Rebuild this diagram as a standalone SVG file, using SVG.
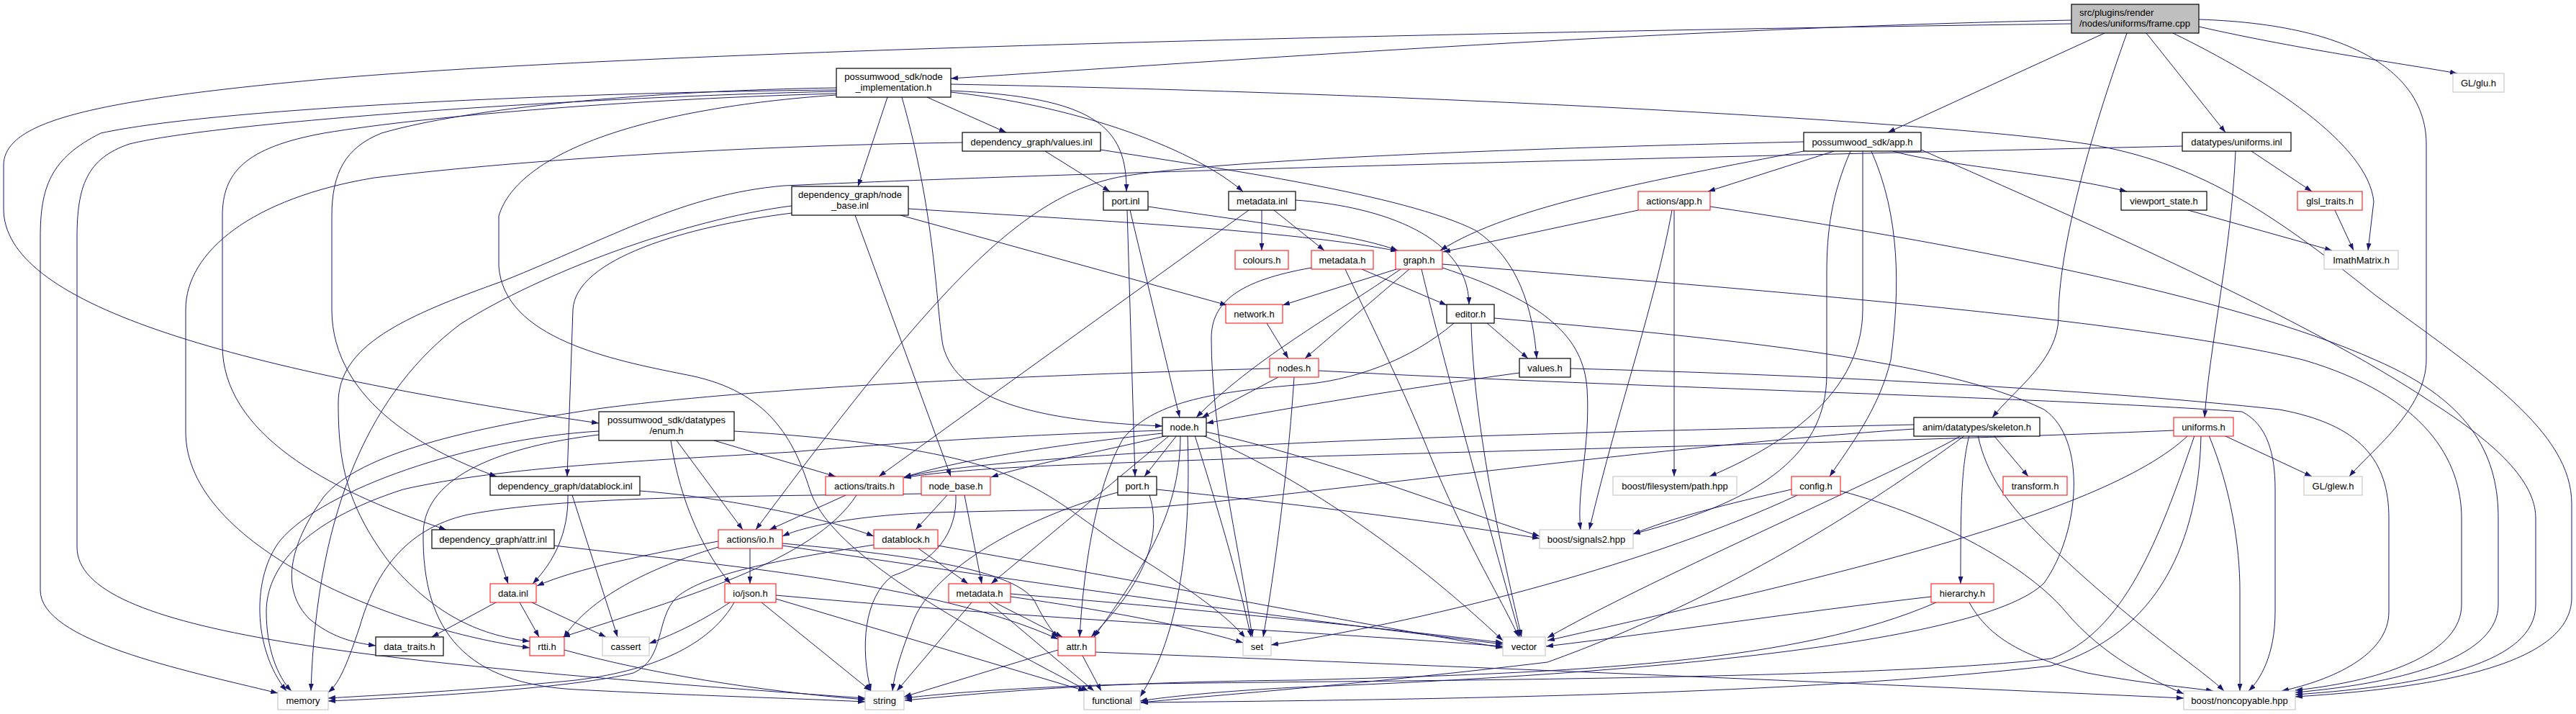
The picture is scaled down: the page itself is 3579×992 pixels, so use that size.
<svg xmlns="http://www.w3.org/2000/svg" width="3579" height="992" viewBox="0 0 3579 992">
<defs>
<style>
.e{fill:none;stroke:#191970;stroke-width:1;marker-end:url(#arr)}
.node rect{fill:#fff;stroke:#000;stroke-width:1.2}
.node.r rect{stroke:#ff0000;stroke-width:1}
.node.g rect{stroke:#bfbfbf;stroke-width:1}
.node text{font-family:"Liberation Sans",Arial,Helvetica,sans-serif;font-size:13px;fill:#000;text-anchor:middle}
</style>
<marker id="arr" viewBox="0 0 10 7" refX="10" refY="3.5" markerWidth="10" markerHeight="7" markerUnits="userSpaceOnUse" orient="auto"><path d="M0,0 L10,3.5 L0,7 z" fill="#191970"/></marker>
</defs>
<rect x="0" y="0" width="3579" height="992" fill="#fff"/>
<g id="edges">
<path class="e" d="M2878,28 C2300,40 1700,85 1321,109"/>
<path class="e" d="M2878,33 C2000,45 900,70 450,110 C120,140 5,170 5,230 L5,290 C5,420 300,510 832,588"/>
<path class="e" d="M2924,46 L2623,184"/>
<path class="e" d="M2955,46 C2900,200 2860,350 2860,440 C2860,500 2800,540 2768,580"/>
<path class="e" d="M2982,46 L3092,184"/>
<path class="e" d="M3019,46 C3150,110 3290,200 3298,280 L3290,348"/>
<path class="e" d="M3055,37 C3200,70 3350,90 3414,102"/>
<path class="e" d="M3055,27 C3300,35 3371,120 3371,200 L3371,500 C3371,570 3290,630 3264,662"/>
<path class="e" d="M1288,135 L1398,184"/>
<path class="e" d="M1233,135 L1192,259"/>
<path class="e" d="M1321,126 C1520,135 1566,175 1565,266"/>
<path class="e" d="M1321,128 C1480,145 1650,200 1727,266"/>
<path class="e" d="M1253,135 C1300,300 1300,420 1310,480 C1330,560 1450,585 1615,592"/>
<path class="e" d="M1162,125 C800,128 300,150 140,185 C70,220 56,260 56,330 L56,820 C56,890 250,930 386,963"/>
<path class="e" d="M1162,127 C800,135 300,170 180,200 C120,220 107,260 107,330 L107,760 C107,880 500,920 1202,970"/>
<path class="e" d="M1162,130 C900,137 600,160 450,185 C340,205 309,240 309,300 L309,480 C309,600 450,680 620,736"/>
<path class="e" d="M1162,122 C900,126 650,150 530,185 C480,205 461,240 461,300 L461,430 C461,560 600,630 690,662"/>
<path class="e" d="M1162,132 C900,150 720,210 693,300 L693,370 C700,470 850,500 950,520 C1060,540 1100,600 1125,680 C1150,760 1300,850 1512,960"/>
<path class="e" d="M1321,117 C2000,130 2700,170 2900,200 C3050,225 3150,290 3300,410 C3450,520 3573,600 3573,700 L3573,830 C3573,920 3400,955 3189,968"/>
<path class="e" d="M1452,210 L1542,266"/>
<path class="e" d="M1529,208 C1700,235 1950,270 2050,320 C2110,360 2130,430 2135,498"/>
<path class="e" d="M1337,198 C1000,203 700,225 520,247 C350,275 258,350 258,430 L258,600 C258,760 550,875 736,900"/>
<path class="e" d="M2548,210 L2373,266"/>
<path class="e" d="M2630,210 C2700,230 2850,240 2955,266"/>
<path class="e" d="M2506,210 C2300,250 2100,285 2001,348"/>
<path class="e" d="M2506,197 C2100,206 1700,222 1560,245 C1420,270 1300,400 1050,736"/>
<path class="e" d="M2571,210 C2545,270 2538,320 2538,380 L2538,520 C2538,640 2430,700 2269,742"/>
<path class="e" d="M2588,210 L2588,430 C2588,560 2450,630 2375,662"/>
<path class="e" d="M2600,210 C2640,300 2640,400 2627,500 C2610,570 2570,620 2542,662"/>
<path class="e" d="M2669,208 C2900,310 3200,440 3380,560 C3490,630 3523,680 3523,720 L3523,840 C3523,920 3380,952 3189,965"/>
<path class="e" d="M3128,210 L3212,266"/>
<path class="e" d="M3106,210 C3100,350 3070,480 3063,580"/>
<path class="e" d="M3032,203 C2500,215 1600,235 1089,258 C950,270 850,330 700,390 C560,440 470,480 470,560 C470,640 480,700 540,780 C600,850 660,882 736,891"/>
<path class="e" d="M3040,292 L3240,348"/>
<path class="e" d="M3244,292 L3270,348"/>
<path class="e" d="M1262,290 C1500,305 1800,320 1942,349"/>
<path class="e" d="M1251,299 L1705,424"/>
<path class="e" d="M1188,299 L1321,662"/>
<path class="e" d="M1100,286 C950,305 750,380 640,450 C520,540 440,700 432,960"/>
<path class="e" d="M1100,296 C950,315 800,360 796,430 L788,662"/>
<path class="e" d="M1595,287 C1750,310 1880,325 1942,348"/>
<path class="e" d="M1566,292 L1577,662"/>
<path class="e" d="M1570,292 L1639,580"/>
<path class="e" d="M1753,292 L1753,348"/>
<path class="e" d="M1770,292 L1840,348"/>
<path class="e" d="M1800,278 C1900,285 2040,320 2041,423"/>
<path class="e" d="M1735,292 L1221,662"/>
<path class="e" d="M2276,292 L2005,350"/>
<path class="e" d="M2326,292 L2326,662"/>
<path class="e" d="M2323,292 C2300,420 2250,560 2208,736"/>
<path class="e" d="M2376,287 C2700,335 3100,410 3300,500 C3440,560 3471,640 3471,720 L3471,840 C3471,910 3350,948 3189,962"/>
<path class="e" d="M1892,374 L2010,424"/>
<path class="e" d="M1822,372 C1720,390 1683,420 1683,470 C1683,600 1720,750 1740,885"/>
<path class="e" d="M1869,374 C1900,440 1950,540 1990,640 C2040,760 2090,840 2110,885"/>
<path class="e" d="M1940,374 L1782,424"/>
<path class="e" d="M1958,374 L1813,498"/>
<path class="e" d="M1946,374 C1850,440 1740,500 1662,580"/>
<path class="e" d="M1975,374 C2000,480 2060,700 2112,885"/>
<path class="e" d="M2004,372 C2150,420 2200,470 2205,540 C2210,620 2190,680 2196,736"/>
<path class="e" d="M2004,367 C2400,400 2950,440 3200,500 C3370,550 3420,640 3420,720 L3420,840 C3420,905 3320,945 3189,959"/>
<path class="e" d="M2066,449 L2123,498"/>
<path class="e" d="M2044,449 C2048,600 2090,780 2114,885"/>
<path class="e" d="M2020,449 C1960,500 1880,530 1800,535 C1680,545 1600,560 1560,610 C1520,680 1505,800 1500,885"/>
<path class="e" d="M2076,442 C2400,470 2700,500 2840,569 C2900,610 2890,740 2840,810 C2750,900 2200,940 1800,955 C1700,960 1620,968 1584,974"/>
<path class="e" d="M2111,518 C1950,540 1800,565 1676,588"/>
<path class="e" d="M2182,512 C2500,520 2900,540 3167,569 C3280,590 3319,640 3319,720 L3319,850 C3319,910 3240,945 3170,960"/>
<path class="e" d="M1760,449 L1790,498"/>
<path class="e" d="M1776,524 L1670,580"/>
<path class="e" d="M1798,524 C1790,650 1770,800 1755,885"/>
<path class="e" d="M1832,515 C2300,540 2800,550 3115,572 C3150,590 3161,630 3161,680 L3161,850 C3161,910 3140,945 3124,960"/>
<path class="e" d="M1764,512 C1300,525 1000,545 830,568 C650,595 500,630 450,690 C400,760 390,820 430,860 C460,885 490,893 522,897"/>
<path class="e" d="M992,612 L1161,662"/>
<path class="e" d="M940,612 L1032,736"/>
<path class="e" d="M932,612 C945,700 980,770 1015,811"/>
<path class="e" d="M1020,599 C1200,610 1330,630 1400,660 C1470,690 1500,720 1560,760 C1640,810 1700,850 1730,886"/>
<path class="e" d="M832,599 C650,610 450,680 390,750 C350,800 350,900 398,960"/>
<path class="e" d="M832,604 C700,620 590,660 588,740 C586,880 650,950 800,958 C950,966 1100,970 1202,975"/>
<path class="e" d="M1020,837 C990,890 920,930 800,945 C650,960 520,966 456,970"/>
<path class="e" d="M1280,686 C1000,690 780,690 650,715 C560,735 520,800 500,870 C480,930 470,950 456,962"/>
<path class="e" d="M1214,757 C1100,775 980,795 940,830 C910,860 925,915 880,935 C800,955 600,968 456,974"/>
<path class="e" d="M1615,598 C1400,605 1250,615 1100,628 C900,640 700,648 560,680 C420,725 370,790 370,850 C370,900 385,940 405,960"/>
<path class="e" d="M1615,602 C1450,620 1330,640 1256,663"/>
<path class="e" d="M1622,605 C1520,630 1430,645 1377,663"/>
<path class="e" d="M1635,605 L1590,662"/>
<path class="e" d="M1625,605 L1377,811"/>
<path class="e" d="M1640,605 C1640,720 1580,800 1520,885"/>
<path class="e" d="M1650,605 C1655,750 1640,880 1584,968"/>
<path class="e" d="M1660,605 C1690,700 1720,800 1738,885"/>
<path class="e" d="M1676,600 C1850,640 2000,700 2139,745"/>
<path class="e" d="M1671,605 C1800,660 1950,760 2088,890"/>
<path class="e" d="M1316,688 L1272,736"/>
<path class="e" d="M1340,688 L1364,811"/>
<path class="e" d="M1328,688 C1330,740 1300,780 1240,800 C1200,830 1195,900 1210,960"/>
<path class="e" d="M1597,688 C1620,760 1570,830 1516,885"/>
<path class="e" d="M1553,684 C1420,720 1300,790 1270,860 C1250,910 1242,940 1240,960"/>
<path class="e" d="M1607,680 C1800,700 2000,725 2139,748"/>
<path class="e" d="M1175,688 L1069,736"/>
<path class="e" d="M1190,688 C1130,780 950,830 782,885"/>
<path class="e" d="M1042,762 L1042,811"/>
<path class="e" d="M998,752 C900,770 800,790 746,814"/>
<path class="e" d="M998,760 C900,790 820,830 783,886"/>
<path class="e" d="M1087,755 C1250,770 1420,790 1440,840 C1450,860 1460,875 1470,886"/>
<path class="e" d="M1087,758 C1500,820 1800,860 2088,895"/>
<path class="e" d="M1276,762 L1345,811"/>
<path class="e" d="M1303,758 C1600,810 1850,860 2088,900"/>
<path class="e" d="M789,688 C790,740 770,780 740,811"/>
<path class="e" d="M795,688 L858,885"/>
<path class="e" d="M889,682 C1000,690 1150,720 1214,745"/>
<path class="e" d="M690,762 L706,811"/>
<path class="e" d="M770,758 C1000,785 1300,810 1470,888"/>
<path class="e" d="M689,837 L600,885"/>
<path class="e" d="M722,837 L749,885"/>
<path class="e" d="M739,837 L842,885"/>
<path class="e" d="M1014,837 C980,860 940,880 902,894"/>
<path class="e" d="M1058,837 L1210,960"/>
<path class="e" d="M1078,832 L1508,960"/>
<path class="e" d="M1078,827 C1500,865 1800,875 2088,898"/>
<path class="e" d="M1382,837 L1476,885"/>
<path class="e" d="M1350,837 L1246,960"/>
<path class="e" d="M1374,837 L1520,960"/>
<path class="e" d="M1404,829 C1550,850 1650,870 1727,893"/>
<path class="e" d="M1404,825 C1700,850 1900,870 2088,893"/>
<path class="e" d="M1470,903 C1380,930 1300,955 1256,968"/>
<path class="e" d="M1504,911 L1530,960"/>
<path class="e" d="M1522,906 C2000,925 2600,950 3034,970"/>
<path class="e" d="M784,903 C900,935 1050,960 1202,972"/>
<path class="e" d="M2683,829 C2500,850 2300,880 2148,898"/>
<path class="e" d="M2690,837 C2500,920 2200,935 1800,945 C1500,948 1350,965 1257,973"/>
<path class="e" d="M2736,837 C2760,880 2800,910 2900,935 C2980,950 3040,955 3075,960"/>
<path class="e" d="M2770,605 L2818,662"/>
<path class="e" d="M2736,605 C2725,650 2724,700 2724,811"/>
<path class="e" d="M2725,605 C2650,650 2300,800 2150,886"/>
<path class="e" d="M2730,605 C2600,700 2400,830 2150,920 C1900,950 1700,965 1585,976"/>
<path class="e" d="M2659,590 C2200,600 1800,612 1650,625 C1500,635 1330,645 1256,663"/>
<path class="e" d="M2659,596 C2300,620 1800,690 1600,705 L1300,712 C1200,715 1120,730 1087,745"/>
<path class="e" d="M2748,605 C2760,660 2790,700 2830,740 C2950,860 3060,930 3090,960"/>
<path class="e" d="M3090,605 L3212,662"/>
<path class="e" d="M3040,605 C2920,720 2500,810 2150,890"/>
<path class="e" d="M3049,605 C3000,750 2950,880 2850,915 C2600,945 1900,945 1600,950 C1450,953 1320,962 1257,970"/>
<path class="e" d="M3058,605 C3055,750 3000,880 2850,925 C2500,965 2000,972 1585,976"/>
<path class="e" d="M3020,598 C2700,612 2000,628 1700,638 C1500,645 1330,650 1256,664"/>
<path class="e" d="M3069,605 C3100,680 3112,760 3112,820 L3112,960"/>
<path class="e" d="M2489,680 C2400,700 2320,720 2269,742"/>
<path class="e" d="M2497,688 C2300,780 2000,860 1766,896"/>
<path class="e" d="M2557,682 C2700,720 2820,790 2870,850 C2920,910 2990,945 3034,964"/>
</g>
<g id="n-frame" class="node"><rect x="2878" y="6" width="177" height="40" style="fill:#bfbfbf"/><text x="2889" y="21.5" style="text-anchor:start">src/plugins/render</text><text x="2889" y="36.5" style="text-anchor:start">/nodes/uniforms/frame.cpp</text></g>
<g id="n-node-implementation" class="node"><rect x="1162" y="95" width="159" height="40"/><text x="1241.5" y="110.5">possumwood_sdk/node</text><text x="1241.5" y="125.5">_implementation.h</text></g>
<g id="n-glu" class="node g"><rect x="3408" y="102" width="71" height="26"/><text x="3443.5" y="119.5">GL/glu.h</text></g>
<g id="n-values-inl" class="node"><rect x="1337" y="184" width="192" height="26"/><text x="1433" y="201.5">dependency_graph/values.inl</text></g>
<g id="n-app" class="node"><rect x="2506" y="184" width="163" height="26"/><text x="2587.5" y="201.5">possumwood_sdk/app.h</text></g>
<g id="n-uniforms-inl" class="node"><rect x="3032" y="184" width="151" height="26"/><text x="3107.5" y="201.5">datatypes/uniforms.inl</text></g>
<g id="n-node-base-inl" class="node"><rect x="1100" y="259" width="162" height="40"/><text x="1181" y="274.5">dependency_graph/node</text><text x="1181" y="289.5">_base.inl</text></g>
<g id="n-port-inl" class="node"><rect x="1533" y="266" width="62" height="26"/><text x="1564" y="283.5">port.inl</text></g>
<g id="n-metadata-inl" class="node"><rect x="1707" y="266" width="93" height="26"/><text x="1753.5" y="283.5">metadata.inl</text></g>
<g id="n-actions-app" class="node r"><rect x="2276" y="266" width="100" height="26"/><text x="2326" y="283.5">actions/app.h</text></g>
<g id="n-viewport-state" class="node"><rect x="2947" y="266" width="119" height="26"/><text x="3006.5" y="283.5">viewport_state.h</text></g>
<g id="n-glsl-traits" class="node r"><rect x="3192" y="266" width="90" height="26"/><text x="3237" y="283.5">glsl_traits.h</text></g>
<g id="n-colours" class="node r"><rect x="1716" y="348" width="74" height="26"/><text x="1753" y="365.5">colours.h</text></g>
<g id="n-metadata-a" class="node r"><rect x="1822" y="348" width="86" height="26"/><text x="1865" y="365.5">metadata.h</text></g>
<g id="n-graph" class="node r"><rect x="1939" y="348" width="65" height="26"/><text x="1971.5" y="365.5">graph.h</text></g>
<g id="n-imathmatrix" class="node g"><rect x="3229" y="348" width="103" height="26"/><text x="3280.5" y="365.5">ImathMatrix.h</text></g>
<g id="n-network" class="node r"><rect x="1703" y="423" width="79" height="26"/><text x="1742.5" y="440.5">network.h</text></g>
<g id="n-editor" class="node"><rect x="2010" y="423" width="66" height="26"/><text x="2043" y="440.5">editor.h</text></g>
<g id="n-nodes" class="node r"><rect x="1764" y="498" width="68" height="26"/><text x="1798" y="515.5">nodes.h</text></g>
<g id="n-values-h" class="node"><rect x="2111" y="498" width="71" height="26"/><text x="2146.5" y="515.5">values.h</text></g>
<g id="n-enum" class="node"><rect x="832" y="572" width="188" height="40"/><text x="926" y="587.5">possumwood_sdk/datatypes</text><text x="926" y="602.5">/enum.h</text></g>
<g id="n-node" class="node"><rect x="1615" y="580" width="61" height="26"/><text x="1645.5" y="597.5">node.h</text></g>
<g id="n-skeleton" class="node"><rect x="2659" y="580" width="175" height="26"/><text x="2746.5" y="597.5">anim/datatypes/skeleton.h</text></g>
<g id="n-uniforms-h" class="node r"><rect x="3020" y="580" width="83" height="26"/><text x="3061.5" y="597.5">uniforms.h</text></g>
<g id="n-actions-traits" class="node r"><rect x="1147" y="662" width="108" height="26"/><text x="1201" y="679.5">actions/traits.h</text></g>
<g id="n-datablock-inl" class="node"><rect x="681" y="662" width="208" height="26"/><text x="785" y="679.5">dependency_graph/datablock.inl</text></g>
<g id="n-node-base-h" class="node r"><rect x="1280" y="662" width="96" height="26"/><text x="1328" y="679.5">node_base.h</text></g>
<g id="n-port-h" class="node"><rect x="1553" y="662" width="54" height="26"/><text x="1580" y="679.5">port.h</text></g>
<g id="n-filesystem-path" class="node g"><rect x="2241" y="662" width="172" height="26"/><text x="2327" y="679.5">boost/filesystem/path.hpp</text></g>
<g id="n-config" class="node r"><rect x="2489" y="662" width="68" height="26"/><text x="2523" y="679.5">config.h</text></g>
<g id="n-transform" class="node r"><rect x="2783" y="662" width="89" height="26"/><text x="2827.5" y="679.5">transform.h</text></g>
<g id="n-glew" class="node g"><rect x="3201" y="662" width="81" height="26"/><text x="3241.5" y="679.5">GL/glew.h</text></g>
<g id="n-attr-inl" class="node"><rect x="600" y="736" width="170" height="26"/><text x="685" y="753.5">dependency_graph/attr.inl</text></g>
<g id="n-actions-io" class="node r"><rect x="998" y="736" width="89" height="26"/><text x="1042.5" y="753.5">actions/io.h</text></g>
<g id="n-datablock-h" class="node r"><rect x="1214" y="736" width="89" height="26"/><text x="1258.5" y="753.5">datablock.h</text></g>
<g id="n-signals2" class="node g"><rect x="2139" y="736" width="130" height="26"/><text x="2204" y="753.5">boost/signals2.hpp</text></g>
<g id="n-data-inl" class="node r"><rect x="681" y="811" width="64" height="26"/><text x="713" y="828.5">data.inl</text></g>
<g id="n-io-json" class="node r"><rect x="1007" y="811" width="71" height="26"/><text x="1042.5" y="828.5">io/json.h</text></g>
<g id="n-metadata-b" class="node r"><rect x="1318" y="811" width="86" height="26"/><text x="1361" y="828.5">metadata.h</text></g>
<g id="n-hierarchy" class="node r"><rect x="2683" y="811" width="87" height="26"/><text x="2726.5" y="828.5">hierarchy.h</text></g>
<g id="n-data-traits" class="node"><rect x="522" y="885" width="94" height="26"/><text x="569" y="902.5">data_traits.h</text></g>
<g id="n-rtti" class="node r"><rect x="736" y="885" width="48" height="26"/><text x="760" y="902.5">rtti.h</text></g>
<g id="n-cassert" class="node g"><rect x="837" y="885" width="65" height="26"/><text x="869.5" y="902.5">cassert</text></g>
<g id="n-attr-h" class="node r"><rect x="1470" y="885" width="52" height="26"/><text x="1496" y="902.5">attr.h</text></g>
<g id="n-set" class="node g"><rect x="1727" y="885" width="39" height="26"/><text x="1746.5" y="902.5">set</text></g>
<g id="n-vector" class="node g"><rect x="2088" y="885" width="59" height="26"/><text x="2117.5" y="902.5">vector</text></g>
<g id="n-memory" class="node g"><rect x="386" y="960" width="70" height="26"/><text x="421" y="977.5">memory</text></g>
<g id="n-string" class="node g"><rect x="1202" y="960" width="54" height="26"/><text x="1229" y="977.5">string</text></g>
<g id="n-functional" class="node g"><rect x="1506" y="960" width="78" height="26"/><text x="1545" y="977.5">functional</text></g>
<g id="n-noncopyable" class="node g"><rect x="3034" y="960" width="155" height="26"/><text x="3111.5" y="977.5">boost/noncopyable.hpp</text></g>
</svg>
